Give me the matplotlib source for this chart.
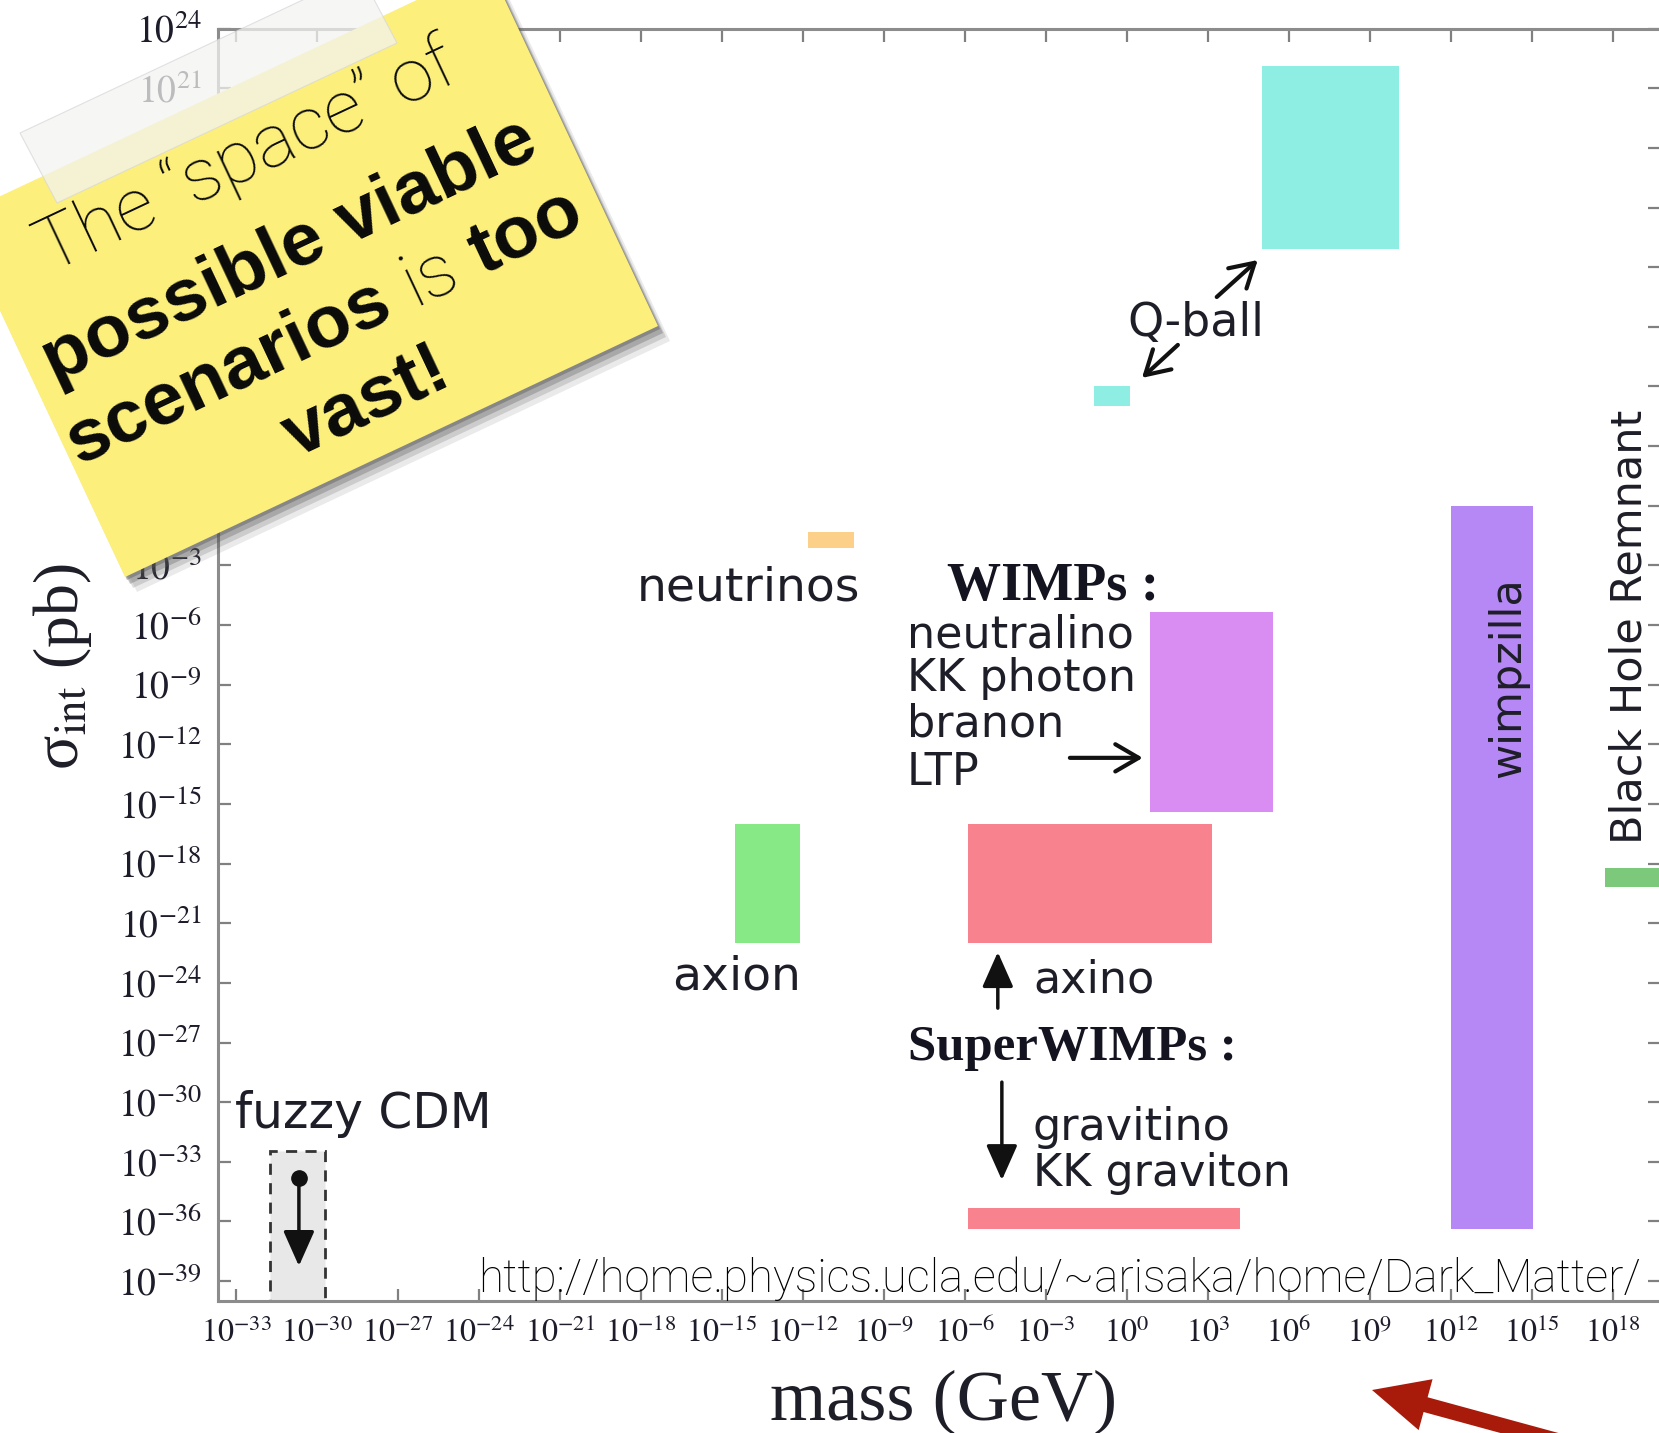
import numpy as np
import matplotlib
matplotlib.use('Agg')
import matplotlib.pyplot as plt
from matplotlib.patches import Polygon, FancyArrowPatch

W, H = 1659, 1433

# candidate boxes, log10 of mass (GeV) and of sigma_int (pb)
box_names = ['Q-ball', 'Q-ball light', 'neutrinos', 'WIMPs', 'axion', 'axino',
             'gravitino', 'wimpzilla', 'Black Hole Remnant']
mass_lo = [5.0, -1.2, -11.8, 0.85, -14.5, -5.9, -5.9, 12.0, 17.7]
mass_hi = [10.1, 0.1, -10.1, 5.4, -12.1, 3.15, 4.2, 15.05, 21.0]
sigma_lo = [12.9, 5.0, -2.1, -15.4, -22.0, -22.0, -36.4, -36.4, -19.2]
sigma_hi = [22.1, 6.0, -1.3, -5.35, -16.0, -16.0, -35.3, 0.0, -18.2]
box_colors = ['#8eeee4', '#8eeee4', '#fdd08a', '#d98cf2', '#86e986', '#f8838f',
              '#f8838f', '#b688f6', '#7cc97c']

# fuzzy CDM: mass range and upper limit on sigma
fuzzy_mass = [-31.74, -29.7]
fuzzy_sigma_top = -32.46

x_exps = np.arange(-33, 19, 3)
y_exps = np.arange(-39, 25, 3)

url = 'http://home.physics.ucla.edu/~arisaka/home/Dark_Matter/'
note_lines = [
    [('The \u201cspace\u201d of', 'light')],
    [('possible viable', 'bold')],
    [('scenarios', 'bold'), ('is', 'light'), ('too', 'bold')],
    [('vast!', 'bold')],
]


def P(a):
    return 10.0 ** a


def fxy(px, py):
    # image pixels (y down) -> figure fraction
    return (px / W, 1 - py / H)


plt.rcParams['mathtext.fontset'] = 'stix'
fig = plt.figure(figsize=(W / 100, H / 100), dpi=100)
ax = fig.add_axes([218 / W, 1 - 1301 / H, (1660 - 218) / W, (1301 - 28.6) / H])
ax.set_xscale('log')
ax.set_yscale('log')
ax.set_xlim(P(-33.667), P(19.75))
ax.set_ylim(P(-40), P(24))

for lo, hi, slo, shi, c in zip(mass_lo, mass_hi, sigma_lo, sigma_hi, box_colors):
    ax.bar(P(lo), P(shi) - P(slo), width=P(hi) - P(lo), bottom=P(slo),
           align='edge', color=c, lw=0, zorder=2)

ax.bar(P(fuzzy_mass[0]), P(fuzzy_sigma_top) - P(-40), width=P(fuzzy_mass[1]) - P(fuzzy_mass[0]),
       bottom=P(-40), align='edge', color='#e8e8e8', edgecolor='#333333', lw=2,
       linestyle=(0, (4, 3)), zorder=2)

ax.set_xticks(P(x_exps))
ax.set_xticklabels([rf'$10^{{{e}}}$' for e in x_exps])
ax.set_yticks(P(y_exps))
ax.set_yticklabels([rf'$10^{{{e}}}$' for e in y_exps])
ax.minorticks_off()
ax.tick_params(direction='in', length=9, width=1.6, color='#808080', top=True, right=True)
ax.tick_params(axis='x', labelsize=23, pad=12, labelcolor='#1c1c2a')
ax.tick_params(axis='y', labelsize=27, pad=12, labelcolor='#1c1c2a')
for s in ax.spines.values():
    s.set_color('#8c8c8c')
    s.set_linewidth(2.2)

# labels
lab = dict(family='DejaVu Sans', color='#1e1e28', zorder=4)
ax.text(P(2.56), P(9.19), 'Q-ball', fontsize=33, ha='center', va='center', **lab)
ax.text(P(-14.0), P(-4.14), 'neutrinos', fontsize=34, ha='center', va='center', **lab)
ax.text(P(-14.44), P(-23.7), 'axion', fontsize=34, ha='center', va='center', **lab)
ax.text(P(-33.04), P(-30.6), 'fuzzy CDM', fontsize=35, ha='left', va='center', **lab)
for txt, y in zip(['neutralino', 'KK photon', 'branon', 'LTP'], [-6.5, -8.7, -10.97, -13.4]):
    ax.text(P(-8.15), P(y), txt, fontsize=32, ha='left', va='center', **lab)
ax.text(P(-3.48), P(-23.86), 'axino', fontsize=32, ha='left', va='center', **lab)
ax.text(P(-3.48), P(-31.26), 'gravitino', fontsize=32, ha='left', va='center', **lab)
ax.text(P(-3.48), P(-33.57), 'KK graviton', fontsize=32, ha='left', va='center', **lab)
ax.text(P(14.11), P(-8.62), 'wimpzilla', fontsize=31, rotation=90, ha='center', va='center', **lab)
ax.text(P(18.63), P(-6.1), 'Black Hole Remnant', fontsize=31, rotation=90, ha='center', va='center', **lab)

serif = dict(family='Liberation Serif', weight='bold', color='#141420', zorder=4)
ax.text(P(-6.67), P(-4.09), 'WIMPs :', fontsize=39, ha='left', va='center', **serif)
ax.text(P(-8.11), P(-27.28), 'SuperWIMPs :', fontsize=36.5, ha='left', va='center', **serif)

# arrows
open_head = dict(arrowstyle='->,head_length=0.6,head_width=0.35', lw=3, color='#111111',
                 mutation_scale=28, shrinkA=0, shrinkB=0)
fill_head = dict(arrowstyle='-|>,head_length=0.9,head_width=0.4', lw=2.5, color='#111111',
                 mutation_scale=24, shrinkA=0, shrinkB=0)
ax.annotate('', xy=(P(4.85), P(12.36)), xytext=(P(3.33), P(10.5)), arrowprops=open_head)
ax.annotate('', xy=(P(0.56), P(6.43)), xytext=(P(1.89), P(8.09)), arrowprops=open_head)
ax.annotate('', xy=(P(0.59), P(-12.68)), xytext=(P(-2.11), P(-12.68)), arrowprops=open_head)
ax.annotate('', xy=(P(-4.78), P(-22.45)), xytext=(P(-4.78), P(-25.27)), arrowprops=fill_head)
ax.annotate('', xy=(P(-4.63), P(-33.92)), xytext=(P(-4.63), P(-28.99)), arrowprops=fill_head)
ax.annotate('', xy=(P(-30.67), P(-38.24)), xytext=(P(-30.67), P(-33.81)), arrowprops=fill_head)
ax.plot([P(-30.67)], [P(-33.81)], 'o', color='#111111', ms=11, zorder=5)

# axis titles and source url
fig.text(944 / W, 1 - 1402 / H, 'mass (GeV)', family='Liberation Serif', fontsize=52,
         ha='center', va='center', color='#1e1e28')
fig.text(63 / W, 1 - 667 / H, '\u03c3$_{\\mathrm{int}}$ (pb)', family='Liberation Serif',
         fontsize=46, rotation=90, ha='center', va='center', color='#1e1e28')
fig.text(478 / W, 1 - 1279 / H, url, family='Roboto', weight='light', fontsize=32.8,
         ha='left', va='center', color='black', zorder=4)

# red pointer arrow
fig.add_artist(FancyArrowPatch(fxy(1610, 1455), fxy(1372, 1390), transform=fig.transFigure,
                               arrowstyle='simple,head_length=40,head_width=38,tail_width=11',
                               mutation_scale=1, color='#a81b0b', lw=0, shrinkA=0, shrinkB=0,
                               zorder=9))

# sticky note
note_px = [(-44, 217), (489, -34), (658, 326), (125, 577)]
for dx, dy, a in [(12, 15, 0.12), (8, 11, 0.2), (5, 7, 0.3), (2, 3, 0.4)]:
    fig.add_artist(Polygon([fxy(x + dx, y + dy) for x, y in note_px], closed=True,
                           transform=fig.transFigure, fc='#555555', ec='none', alpha=a, zorder=5))
fig.add_artist(Polygon([fxy(x, y) for x, y in note_px], closed=True, transform=fig.transFigure,
                       fc='#fcef7c', ec='none', zorder=6))

renderer = fig.canvas.get_renderer()
ang = 25.2
ca, sa = np.cos(np.deg2rad(ang)), np.sin(np.deg2rad(ang))
note_fs = 54
fs_px = note_fs * 100 / 72
styles = {'bold': dict(family='Liberation Sans', weight='bold'),
          'light': dict(family='Roboto', weight='light')}
note_centers = [(246, 156), (288, 249), (323, 325), (365, 400)]
for pieces, (cx, cy) in zip(note_lines, note_centers):
    widths = []
    for s, st in pieces:
        t = fig.text(0, 0, s, fontsize=note_fs, **styles[st])
        widths.append(t.get_window_extent(renderer).width)
        t.remove()
    gap = 0.28 * fs_px
    total = sum(widths) + gap * (len(pieces) - 1)
    bx = cx - total / 2 * ca + 0.3 * fs_px * sa
    by = cy + total / 2 * sa + 0.3 * fs_px * ca
    off = 0
    for (s, st), w in zip(pieces, widths):
        fig.text(*fxy(bx + off * ca, by - off * sa), s, fontsize=note_fs, rotation=ang,
                 rotation_mode='anchor', ha='left', va='baseline', color='#0a0a0a',
                 zorder=7, **styles[st])
        off += w + gap

# tape
tape_px = [(20, 133), (57, 203), (397, 43), (360, -27)]
fig.add_artist(Polygon([fxy(x, y) for x, y in tape_px], closed=True, transform=fig.transFigure,
                       fc='#f3f3f1', ec='#d8d8d8', lw=0.8, alpha=0.75, zorder=8))

fig.savefig('out.png', dpi=100)
